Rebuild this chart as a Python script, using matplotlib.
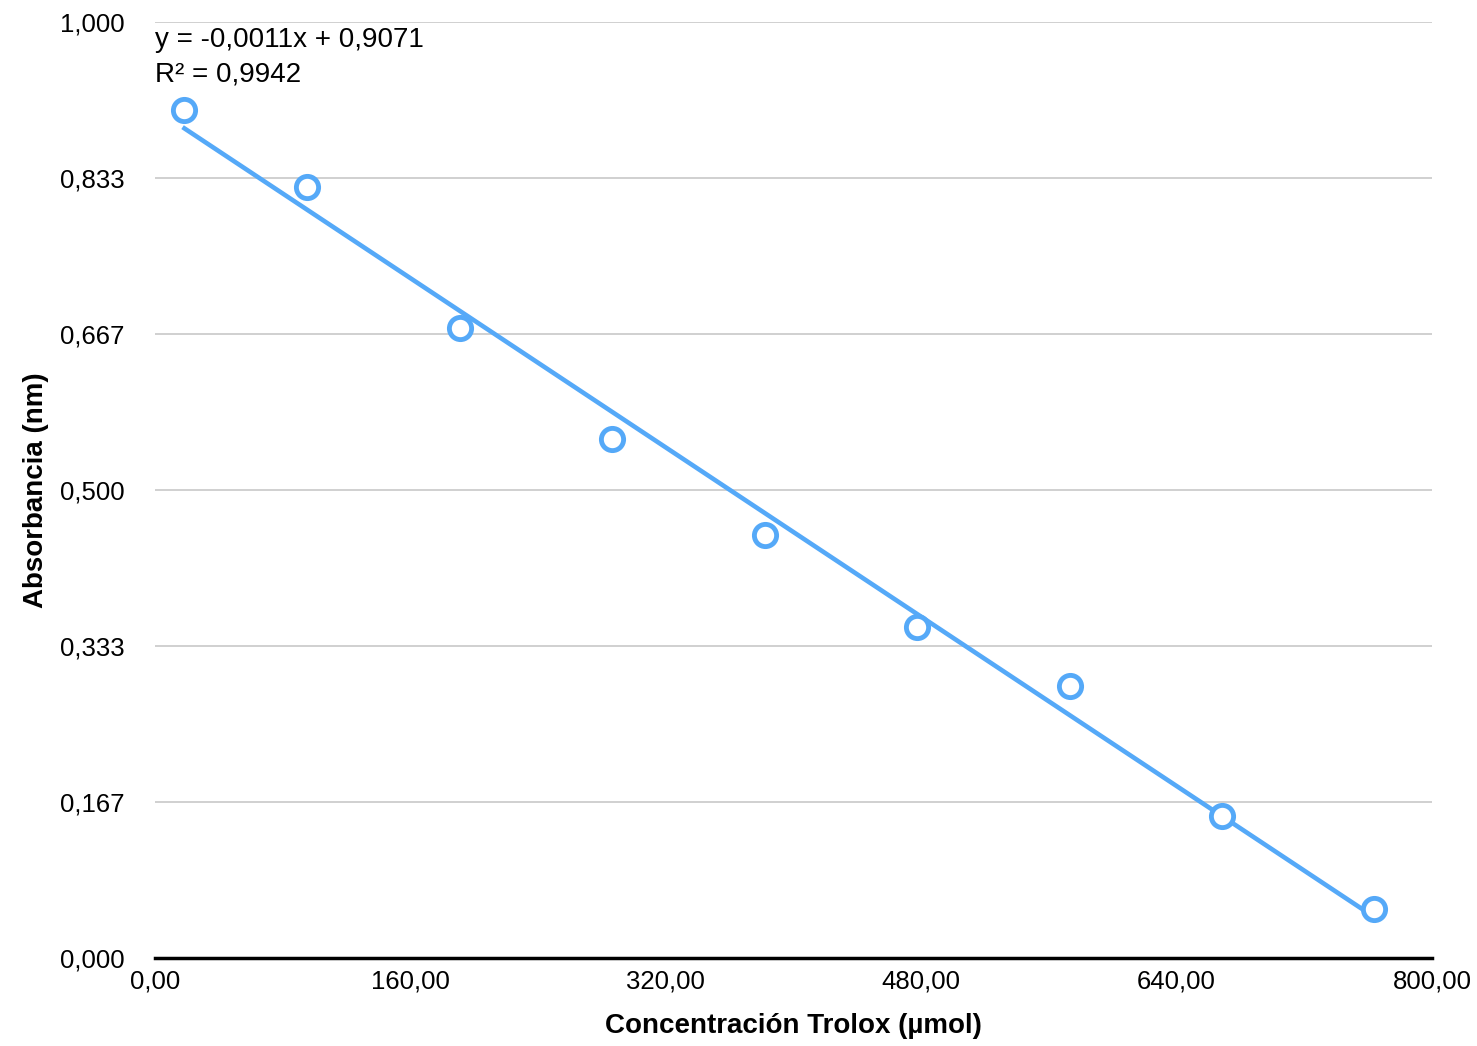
import matplotlib
matplotlib.use('Agg')
import matplotlib.pyplot as plt
import numpy as np

plt.rcParams['font.family'] = ['Liberation Sans', 'DejaVu Sans']

# readings
trolox = [18.5, 95.5, 191.0, 286.5, 382.0, 477.5, 573.0, 668.5, 764.0]
absorbance = [0.906, 0.824, 0.673, 0.5545, 0.452, 0.3536, 0.2906, 0.1517, 0.0524]
y_ticks = [0.0, 1 / 6, 2 / 6, 3 / 6, 4 / 6, 5 / 6, 1.0]
y_labels = ['0,000', '0,167', '0,333', '0,500', '0,667', '0,833', '1,000']
x_ticks = [0, 160, 320, 480, 640, 800]
x_labels = ['0,00', '160,00', '320,00', '480,00', '640,00', '800,00']
equation = 'y = -0,0011x + 0,9071\nR² = 0,9942'

blue = '#55a9f8'

fig = plt.figure(figsize=(14.77, 10.46), dpi=100)
ax = fig.add_axes([0.1049, 0.0841, 0.8646, 0.8949])

slope, intercept = np.polyfit(trolox, absorbance, 1)
xs = np.array([trolox[0], trolox[-1]])
ax.plot(xs, slope * xs + intercept, '-', color=blue, lw=3.3, zorder=2)
ax.plot(trolox, absorbance, 'o', ms=16, mfc='white', mec=blue, mew=3.5, zorder=3)

ax.set_xlim(0, 800)
ax.set_ylim(0, 1.0)
ax.set_xticks(x_ticks, x_labels)
ax.set_yticks(y_ticks, y_labels)
ax.tick_params(axis='both', length=0, labelsize=18.5, colors='black')
ax.tick_params(axis='y', pad=22)
ax.tick_params(axis='x', pad=8)
ax.grid(axis='y', color='#c8c8c8', lw=1.2)
ax.set_axisbelow(True)
for side in ['left', 'right', 'top']:
    ax.spines[side].set_visible(False)
ax.spines['bottom'].set_linewidth(2.5)
ax.spines['bottom'].set_color('black')

ax.set_xlabel('Concentración Trolox (µmol)', fontsize=20, fontweight='bold', labelpad=14)
ax.set_ylabel('Absorbancia (nm)', fontsize=20, fontweight='bold', labelpad=8)

ax.text(0.0, 0.995, equation, transform=ax.transAxes, fontsize=20,
        va='top', ha='left', linespacing=1.45)

fig.savefig('out.png', dpi=100)
